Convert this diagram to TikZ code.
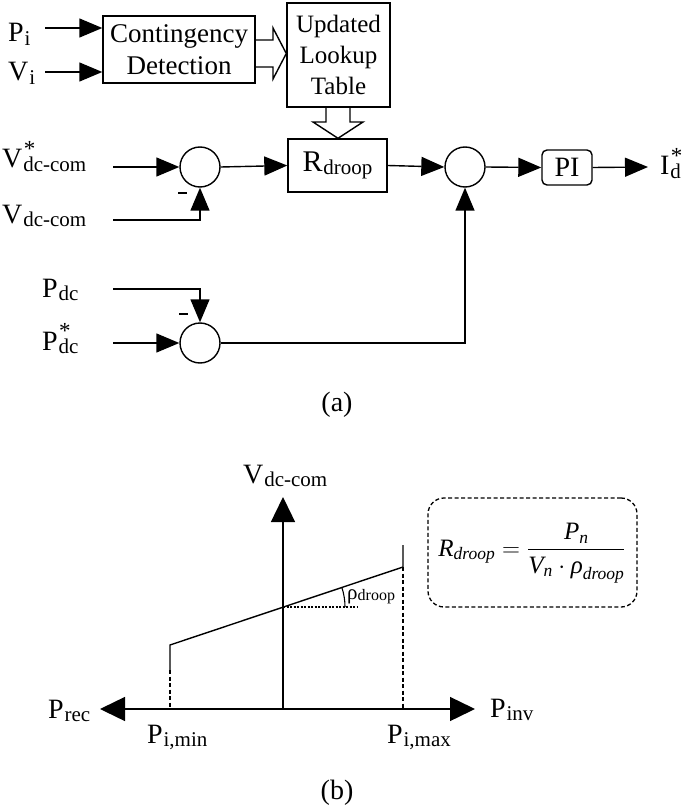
\documentclass[tikz,border=0pt]{standalone}
\usepackage{fontspec}
\usepackage{amsmath}
\setmainfont{Liberation Serif}
\usetikzlibrary{arrows.meta}
\newcommand\sbs[1]{\kern0.03em\raisebox{-0.12em}{\fontsize{21}{22}\selectfont #1}}
\newcommand\ssb[2]{\rlap{\kern0.05em\raisebox{0.42em}{\fontsize{23}{23}\selectfont #1}}\sbs{#2}}
\tikzset{
  big/.style={font=\fontsize{28}{32}\selectfont},
  lbl/.style={big, anchor=base west, inner sep=0pt},
  blk/.style={draw, line width=1.4pt, inner sep=0pt, big},
  sumc/.style={draw, circle, line width=1.4pt, minimum size=40pt, inner sep=0pt},
  ln/.style={line width=1.4pt},
  arr/.style={line width=1.4pt, -{Triangle[length=23pt,width=19pt]}},
  minus/.style={line width=2.8pt},
}
\begin{document}
\begin{tikzpicture}[x=1pt,y=-1pt]
\useasboundingbox (0,0) rectangle (685,810);
% ---------- (a) ----------
\node[blk, minimum width=152pt, minimum height=67pt, align=center,
      font=\fontsize{27}{32}\selectfont] (cd) at (179,49.5) {Contingency\\Detection};
\node[blk, minimum width=103pt, minimum height=104pt, align=center,
      font=\fontsize{25}{31}\selectfont] (lut) at (338.5,55) {Updated\\Lookup\\Table};
\node[blk, minimum width=99pt, minimum height=53pt, font=\fontsize{30}{32}\selectfont] (rd) at (337.5,165.5) {R\sbs{droop}};
\node[sumc] (s1) at (200,167) {};
\node[sumc] (s2) at (465,167) {};
\node[sumc] (s3) at (200,343) {};
\node[blk, rounded corners=5pt, minimum width=50pt, minimum height=35pt] (pi) at (567,167.5) {PI};

\node[lbl] (lPi) at (8,42) {P\sbs{i}};
\node[lbl] (lVi) at (8,81) {V\sbs{i}};
\node[lbl] (lVs) at (2,168) {V\ssb{*}{dc-com}};
\node[lbl] (lV) at (2,223) {V\sbs{dc-com}};
\node[lbl] (lPdc) at (42,297) {P\sbs{dc}};
\node[lbl] (lPs) at (42,350) {P\ssb{*}{dc}};
\node[lbl] (lId) at (660,175) {I\ssb{*}{d}};
\node[big] (la) at (337,405) {(a)};

\coordinate (iPi) at (45,28);
\coordinate (iVi) at (45,72);
\coordinate (iVs) at (113,167);
\coordinate (iV) at (113,220);
\coordinate (iPdc) at (113,289);
\coordinate (iPs) at (113,343);
\coordinate (oId) at (648,167);

\draw[arr] (iPi) -- (cd.west |- iPi);
\draw[arr] (iVi) -- (cd.west |- iVi);
\draw[arr] (iVs) -- (s1.west);
\draw[arr] (iV) -| (s1.south);
\draw[arr] (s1.east) -- (rd.west);
\draw[arr] (rd.east) -- (s2.west);
\draw[arr] (s2.east) -- (pi.west);
\draw[arr] (pi.east) -- (oId);
\draw[arr] (iPdc) -| (s3.north);
\draw[arr] (iPs) -- (s3.west);
\draw[arr] (s3.east) -| (s2.south);
\draw[minus] (178,193) -- (187,193);
\draw[minus] (179,314) -- (188,314);

% hollow arrows
\draw[ln, line join=miter] (cd.east |- 0,40) -- (273,40) -- (273,28) -- (lut.west |- 0,53.5) -- (273,79) -- (273,67) -- (cd.east |- 0,67);
\draw[ln, line join=miter] (326,0 |- lut.south) -- (326,122) -- (313,122) -- (338,0 |- rd.north) -- (363,122) -- (350,122) -- (350,0 |- lut.south);

% ---------- (b) ----------
\coordinate (O) at (283,709);
\coordinate (xl) at (100,709);
\coordinate (xr) at (475,709);
\coordinate (yt) at (283,497);
\coordinate (a1) at (170,670);
\coordinate (a2) at (170,645);
\coordinate (b1) at (403,567);
\coordinate (b2) at (403,545);
\coordinate (m) at (283,607);
\coordinate (d1) at (358,607);
\coordinate (m2) at (345,607);
\draw[line width=1.4pt, {Triangle[length=25pt,width=24pt]}-{Triangle[length=25pt,width=24pt]}] (xl) -- (xr);
\draw[line width=1.4pt, -{Triangle[length=25pt,width=24pt]}] (O) -- (yt);
\draw[ln] (a1) -- (a2) -- (b1) -- (b2);
\draw[line width=1.2pt, dash pattern=on 4pt off 2.5pt] (a1) -- (a1 |- O);
\draw[line width=1.2pt, dash pattern=on 4pt off 2.5pt] (b1) -- (b1 |- O);
\draw[line width=1.1pt, dash pattern=on 2pt off 1.5pt] (m) -- (d1);
\draw[line width=1.1pt] (m2) arc[start angle=0, end angle=18.6, radius=62pt];

\node[lbl] (lVb) at (243,483) {V\sbs{dc-com}};
\node[lbl] (lPr) at (48,718) {P\sbs{rec}};
\node[lbl] (lPinv) at (490,717) {P\sbs{inv}};
\node[lbl] (lPmin) at (147,743) {P\sbs{i,min}};
\node[lbl] (lPmax) at (387,743) {P\sbs{i,max}};
\node[anchor=base west, inner sep=0pt, font=\fontsize{21}{22}\selectfont] (lrho) at (347,599) {ρ\raisebox{-0.08em}{\fontsize{16}{17}\selectfont droop}};

\node[draw, line width=1.3pt, dash pattern=on 4pt off 2.5pt, rounded corners=16pt,
      minimum width=209pt, minimum height=109pt] (fb) at (532.5,552.5) {};
\node[inner sep=0pt, font=\fontsize{25}{30}\selectfont] (fml) at (532,553)
  {$\textit{R}_{\textit{droop}}=\dfrac{\textit{P}_{\textit{n}}}{\textit{V}_{\textit{n}}\cdot\textit{ρ}_{\textit{droop}}}$};
\node[big] (lb) at (337,793) {(b)};
\end{tikzpicture}
\end{document}
